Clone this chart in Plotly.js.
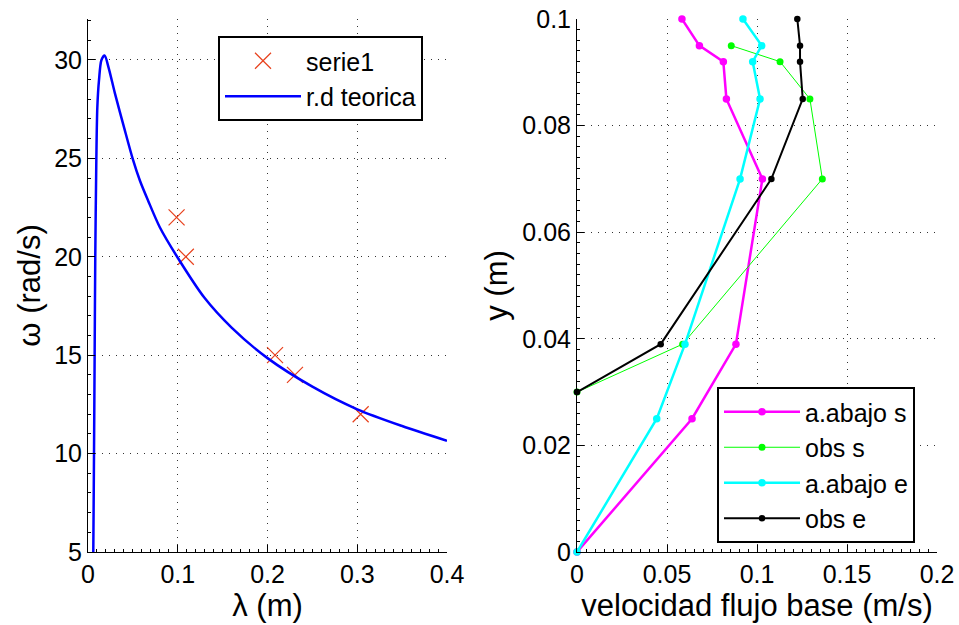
<!DOCTYPE html>
<html>
<head>
<meta charset="utf-8">
<script src="https://cdn.plot.ly/plotly-3.0.1.min.js"></script>
<style>html,body{margin:0;padding:0;background:#fff;}#chart{width:959px;height:625px;}</style>
</head>
<body>
<div id="chart"></div>
<script>
// ---- Left panel: dispersion relation ----
var serieLambda = [0.0987, 0.109, 0.2084, 0.2306, 0.3038];
var serieOmega  = [22, 20, 15, 14, 12];

var teoLambda = [0.0059, 0.0067, 0.0074, 0.0081, 0.0093, 0.0104, 0.0123, 0.015, 0.0185, 0.023, 0.030, 0.040, 0.050, 0.058, 0.067, 0.080, 0.10, 0.13, 0.16, 0.20, 0.25, 0.30, 0.35, 0.40];
var teoOmega  = [5, 10, 15, 20, 25, 27.6, 29.0, 30.0, 30.22, 29.6, 28.3, 26.6, 24.95, 23.85, 22.85, 21.5, 19.95, 17.9, 16.4, 14.85, 13.4, 12.25, 11.4, 10.65];

// ---- Right panel: base-flow velocity profiles ----
var yAbajo = [0.1, 0.095, 0.092, 0.085, 0.07, 0.039, 0.025, 0];
var velAbajoS = [0.0583, 0.068, 0.0813, 0.083, 0.103, 0.0883, 0.0639, 0];
var velAbajoE = [0.0922, 0.1026, 0.0976, 0.1017, 0.0906, 0.060, 0.0443, 0];

var yObsS = [0.095, 0.092, 0.085, 0.07, 0.039, 0.03];
var velObsS = [0.0857, 0.1128, 0.1294, 0.1363, 0.0587, 0];

var yObsE = [0.1, 0.095, 0.092, 0.085, 0.07, 0.039, 0.03];
var velObsE = [0.1224, 0.1239, 0.1239, 0.1254, 0.108, 0.0465, 0];

// ---- Tick labels ----
var leftXTicks = [0, 0.1, 0.2, 0.3, 0.4];
var leftXText = ['0', '0.1', '0.2', '0.3', '0.4'];
var leftYTicks = [5, 10, 15, 20, 25, 30];
var leftYText = ['5', '10', '15', '20', '25', '30'];
var rightXTicks = [0, 0.05, 0.1, 0.15, 0.2];
var rightXText = ['0', '0.05', '0.1', '0.15', '0.2'];
var rightYTicks = [0, 0.02, 0.04, 0.06, 0.08, 0.1];
var rightYText = ['0', '0.02', '0.04', '0.06', '0.08', '0.1'];

var FONT = 'Liberation Sans, Arial, Helvetica, sans-serif';

var traces = [
  {x: serieLambda, y: serieOmega, xaxis: 'x', yaxis: 'y', type: 'scatter', mode: 'markers',
   name: 'serie1', legend: 'legend', cliponaxis: false,
   marker: {symbol: 'x-thin-open', size: 16, color: '#e8401c', line: {width: 1.2, color: '#e8401c'}}},
  {x: teoLambda, y: teoOmega, xaxis: 'x', yaxis: 'y', type: 'scatter', mode: 'lines',
   name: 'r.d teorica', legend: 'legend',
   line: {color: '#0000ff', width: 2.5, shape: 'spline', smoothing: 0.8}},
  {x: velAbajoS, y: yAbajo, xaxis: 'x2', yaxis: 'y2', type: 'scatter', mode: 'lines+markers',
   name: 'a.abajo s', legend: 'legend2', cliponaxis: false,
   line: {color: '#ff00ff', width: 2.5}, marker: {size: 7.5, color: '#ff00ff'}},
  {x: velObsS, y: yObsS, xaxis: 'x2', yaxis: 'y2', type: 'scatter', mode: 'lines+markers',
   name: 'obs s', legend: 'legend2', cliponaxis: false,
   line: {color: '#00ff00', width: 1}, marker: {size: 7, color: '#00ff00'}},
  {x: velAbajoE, y: yAbajo, xaxis: 'x2', yaxis: 'y2', type: 'scatter', mode: 'lines+markers',
   name: 'a.abajo e', legend: 'legend2', cliponaxis: false,
   line: {color: '#00ffff', width: 2.5}, marker: {size: 7.5, color: '#00ffff'}},
  {x: velObsE, y: yObsE, xaxis: 'x2', yaxis: 'y2', type: 'scatter', mode: 'lines+markers',
   name: 'obs e', legend: 'legend2', cliponaxis: false,
   line: {color: '#000000', width: 2}, marker: {size: 6.5, color: '#000000'}}
];

function axisBase(extra) {
  var a = {
    showline: true, linecolor: '#000', linewidth: 1, mirror: false,
    ticks: 'inside', ticklen: 7, tickwidth: 1, tickcolor: '#000',
    showgrid: true, gridcolor: '#333', gridwidth: 1, griddash: '1px,6px',
    zeroline: false, tickfont: {family: FONT, size: 25, color: '#000'},
    tickmode: 'array', automargin: false, fixedrange: true
  };
  for (var k in extra) a[k] = extra[k];
  return a;
}

var layout = {
  width: 959, height: 625,
  margin: {l: 0, r: 0, t: 19, b: 73, pad: 0},
  paper_bgcolor: '#fff', plot_bgcolor: '#fff',
  font: {family: FONT, color: '#000'},
  showlegend: true,
  xaxis: axisBase({domain: [88/959, 447/959], range: [0, 0.4], anchor: 'y',
    tickvals: leftXTicks, ticktext: leftXText,
    minor: {ticks: 'inside', ticklen: 3, dtick: 0.01, tickcolor: '#000', showgrid: false},
    title: {text: 'λ (m)', font: {family: FONT, size: 31}, standoff: 2}}),
  yaxis: axisBase({domain: [0, 1], range: [5, 32.08], anchor: 'x',
    tickvals: leftYTicks, ticktext: leftYText,
    minor: {ticks: 'inside', ticklen: 3, dtick: 1, tickcolor: '#000', showgrid: false},
    title: {text: 'ω (rad/s)', font: {family: FONT, size: 31}, standoff: 4}}),
  xaxis2: axisBase({domain: [577/959, 937/959], range: [0, 0.2], anchor: 'y2',
    tickvals: rightXTicks, ticktext: rightXText,
    minor: {ticks: 'inside', ticklen: 3, dtick: 0.005, tickcolor: '#000', showgrid: false},
    title: {text: 'velocidad flujo base (m/s)', font: {family: FONT, size: 31}, standoff: 2}}),
  yaxis2: axisBase({domain: [0, 1], range: [0, 0.1], anchor: 'x2',
    tickvals: rightYTicks, ticktext: rightYText,
    minor: {ticks: 'inside', ticklen: 3, dtick: 0.002, tickcolor: '#000', showgrid: false},
    title: {text: 'y (m)', font: {family: FONT, size: 31}, standoff: 5}}),
  legend: {x: 218/959, y: (552-36)/533, xanchor: 'left', yanchor: 'top',
    bgcolor: '#fff', bordercolor: '#000', borderwidth: 2,
    font: {family: FONT, size: 25, color: '#000'}, itemwidth: 76, tracegroupgap: 0},
  legend2: {x: 717/959, y: (552-387)/533, xanchor: 'left', yanchor: 'top',
    bgcolor: '#fff', bordercolor: '#000', borderwidth: 2,
    font: {family: FONT, size: 25, color: '#000'}, itemwidth: 76, tracegroupgap: 0}
};

Plotly.newPlot('chart', traces, layout, {displayModeBar: false, staticPlot: true});
</script>
</body>
</html>
